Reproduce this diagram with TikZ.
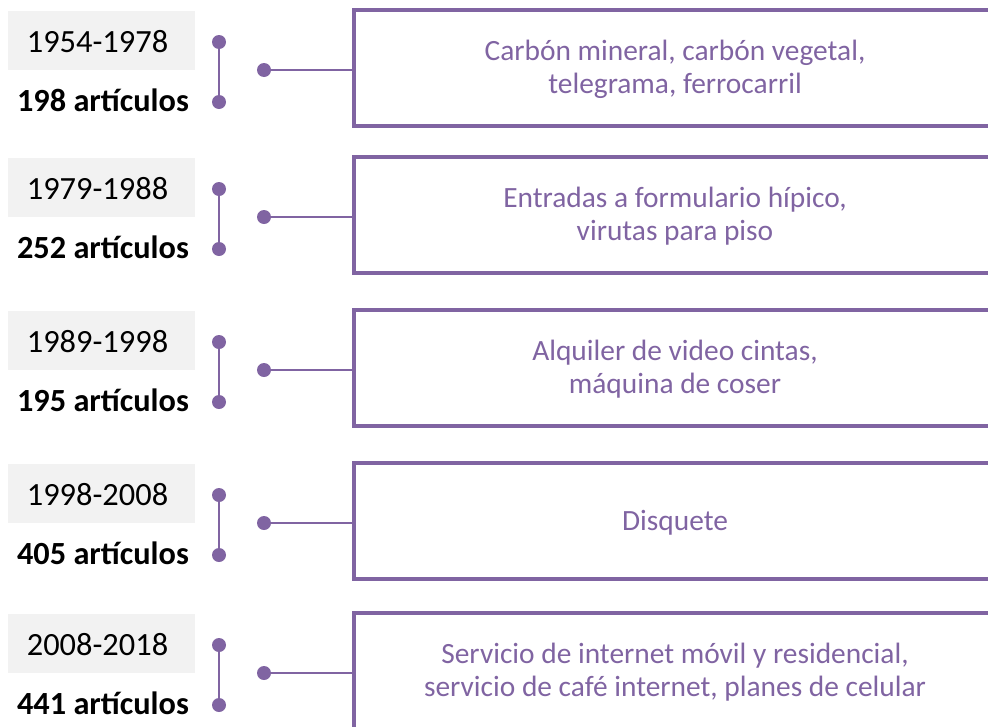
\documentclass[tikz,border=0pt]{standalone}
\usepackage{fontspec}
\setmainfont{Carlito}
\definecolor{tlpurple}{HTML}{8064A2}
\definecolor{tlgray}{HTML}{F2F2F2}
\begin{document}
\begin{tikzpicture}[x=1pt,y=-1pt,
  gbox/.style={fill=tlgray,draw=none,minimum width=187pt,minimum height=59pt,inner sep=0pt},
  datetxt/.style={font=\fontsize{32.4}{38}\selectfont,text=black,inner sep=0pt},
  arttxt/.style={font=\fontsize{32.3}{38}\selectfont\bfseries,text=black,inner sep=0pt},
  tdot/.style={circle,fill=tlpurple,minimum size=14pt,inner sep=0pt},
  pbox/.style={draw=tlpurple,line width=4pt,minimum width=642pt,minimum height=116pt,inner sep=0pt},
  ptxt/.style={align=center,text=tlpurple,font=\fontsize{29.4}{33}\selectfont,inner sep=0pt},
  conn/.style={draw=tlpurple,line width=2.3pt}]
\useasboundingbox (0,0) rectangle (988,726);
\clip (0,0) rectangle (988,726);
\foreach \i/\T/\d/\a/\txt in {
  1/10/1954-1978/198/{Carbón mineral, carbón vegetal,\\telegrama, ferrocarril},
  2/157/1979-1988/252/{Entradas a formulario hípico,\\virutas para piso},
  3/310/1989-1998/195/{Alquiler de video cintas,\\máquina de coser},
  4/463/1998-2008/405/{Disquete},
  5/613/2008-2018/441/{Servicio de internet móvil y residencial,\\servicio de café internet, planes de celular}}{
  \node[gbox] (g\i) at (101.5,\T+30.5) {};
  \node[datetxt] (d\i) at (97.5,\T+32) {\d};
  \node[arttxt] (a\i) at (103,\T+90) {\a\ artículos};
  \node[tdot] (t\i) at (219,\T+32) {};
  \node[tdot] (b\i) at (219,\T+92) {};
  \node[tdot] (h\i) at (264,\T+60) {};
  \node[pbox] (p\i) at (675,\T+58) {};
  \node[ptxt] (x\i) at (675,\T+59.5) {\txt};
  \draw[conn] (t\i) -- (b\i);
  \draw[conn] (h\i) -- (h\i -| p\i.west);
}
\end{tikzpicture}
\end{document}
